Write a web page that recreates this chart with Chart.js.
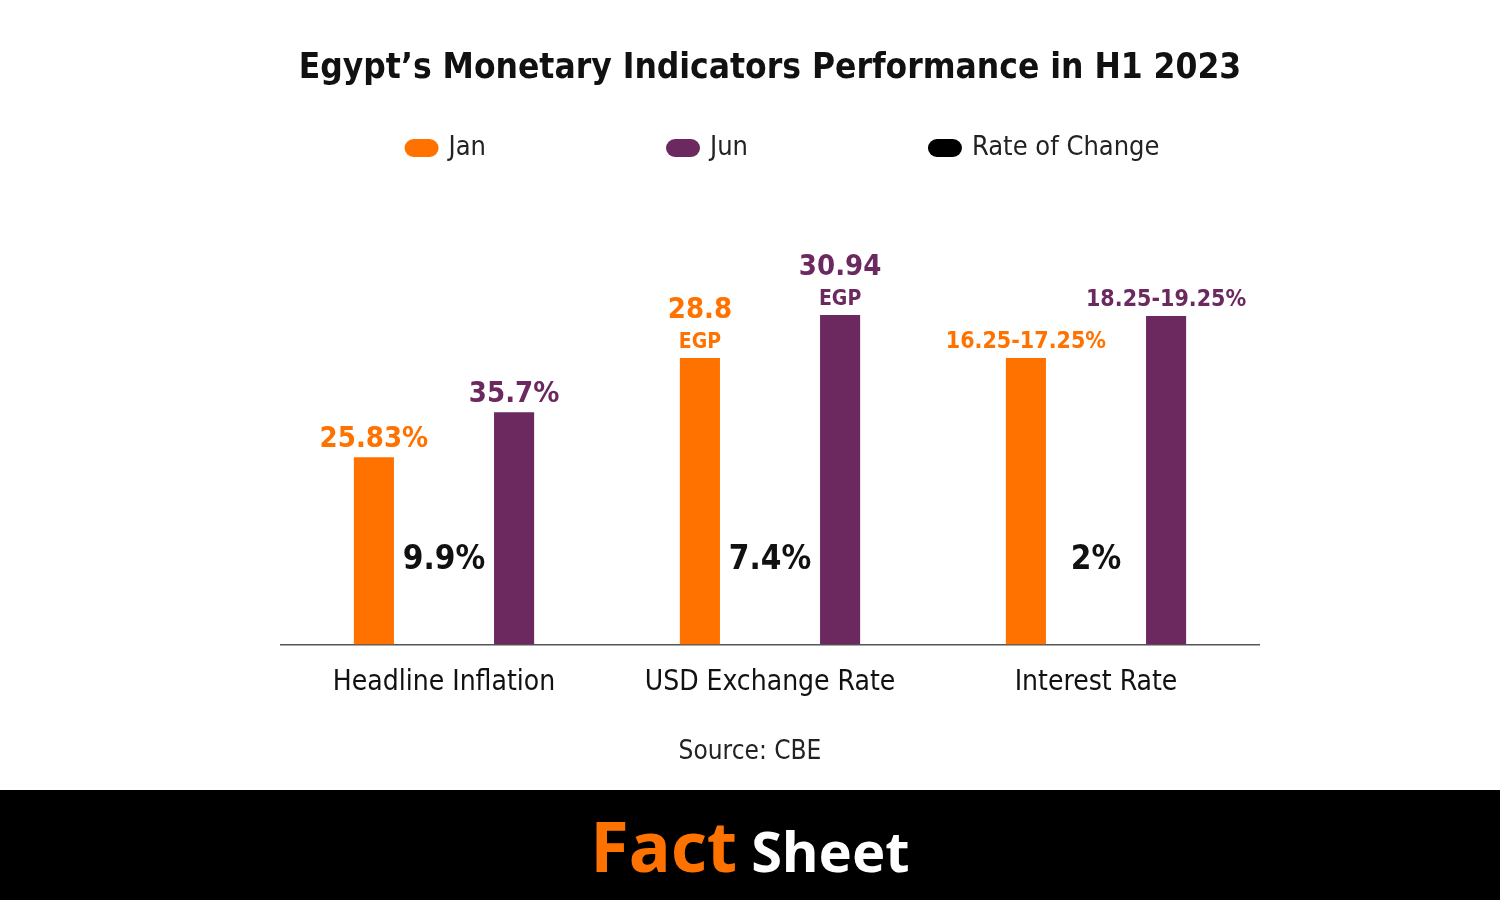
<!DOCTYPE html>
<html>
<head>
<meta charset="utf-8">
<script src="https://cdn.jsdelivr.net/npm/chart.js@4.4.0/dist/chart.umd.min.js"></script>
<style>
  html, body { margin: 0; padding: 0; background: #fff; }
  #wrap { width: 1500px; height: 790px; }
  #footer {
    width: 1500px; height: 110px; background: #000;
    display: flex; align-items: center; justify-content: center;
    font-family: "Noto Sans", sans-serif; font-weight: bold;
  }
  #footer .fact { color: #ff7200; font-size: 70px; margin-right: 14px; }
  #footer .sheet { color: #fff; font-size: 56px; margin-top: 10px; }
</style>
</head>
<body>
<div id="wrap"><canvas id="myChart" width="1500" height="790"></canvas></div>
<div id="footer"><span class="fact">Fact</span><span class="sheet">Sheet</span></div>
<script>
// カテゴリとバーの高さ（画像から読み取り、チャート単位）
const categories = ['Headline Inflation', 'USD Exchange Rate', 'Interest Rate'];
const janHeights = [187, 286, 286];
const junHeights = [232, 329, 328];
// バー上のラベル
const janLabels = ['25.83%', '28.8', '16.25-17.25%'];
const janUnits = ['', 'EGP', ''];
const junLabels = ['35.7%', '30.94', '18.25-19.25%'];
const junUnits = ['', 'EGP', ''];
// 変化率
const rateLabels = ['9.9%', '7.4%', '2%'];
const sourceText = 'Source: CBE';

const ORANGE = '#ff7200';
const PURPLE = '#6b2960';
const FONT = '"DejaVu Sans Condensed", "Noto Sans", sans-serif';

Chart.defaults.font.family = FONT;

// 凡例を手で描く（丸いピル型）
const legendPlugin = {
    id: 'pillLegend',
    afterDraw(chart) {
        const ctx = chart.ctx;
        const items = chart.data.datasets.map(d => ({ text: d.label, color: d.backgroundColor }));
        const gap = 180;
        ctx.save();
        ctx.font = '27px ' + FONT;
        const widths = items.map(it => 34 + 10 + ctx.measureText(it.text).width);
        const total = widths.reduce((a, b) => a + b, 0) + gap * (items.length - 1);
        let x = 782 - total / 2;
        const y = 148;
        items.forEach((it, i) => {
            ctx.fillStyle = it.color;
            ctx.beginPath();
            ctx.roundRect(x, y - 9, 34, 18, 9);
            ctx.fill();
            ctx.fillStyle = '#222';
            ctx.textBaseline = 'middle';
            ctx.textAlign = 'left';
            ctx.fillText(it.text, x + 44, y);
            x += widths[i] + gap;
        });
        // 出典
        ctx.textAlign = 'center';
        ctx.font = '26px ' + FONT;
        ctx.fillText(sourceText, chart.width / 2, 752);
        ctx.restore();
    }
};

// バー上の値ラベルと変化率
const labelPlugin = {
    id: 'barLabels',
    afterDatasetsDraw(chart) {
        const ctx = chart.ctx;
        const sets = [[janLabels, janUnits, ORANGE], [junLabels, junUnits, PURPLE]];
        ctx.save();
        ctx.textAlign = 'center';
        ctx.textBaseline = 'alphabetic';
        sets.forEach((s, di) => {
            const meta = chart.getDatasetMeta(di);
            meta.data.forEach((bar, i) => {
                ctx.fillStyle = s[2];
                let y = bar.y - 10;
                if (s[1][i]) {
                    ctx.font = 'bold 21px ' + FONT;
                    ctx.fillText(s[1][i], bar.x, y);
                    y -= 30;
                }
                const size = s[0][i].length > 8 ? 23 : 29;
                ctx.font = 'bold ' + size + 'px ' + FONT;
                ctx.fillText(s[0][i], bar.x, y);
            });
        });
        const xs = chart.scales.x;
        ctx.fillStyle = '#111';
        ctx.font = 'bold 33px ' + FONT;
        ctx.textBaseline = 'middle';
        rateLabels.forEach((t, i) => {
            ctx.fillText(t, xs.getPixelForValue(i), chart.chartArea.bottom - 84);
        });
        ctx.restore();
    }
};

const ctx = document.getElementById('myChart').getContext('2d');
const myChart = new Chart(ctx, {
    type: 'bar',
    data: {
        labels: categories,
        datasets: [{
            label: 'Jan',
            data: janHeights,
            backgroundColor: ORANGE,
            borderWidth: 0,
            categoryPercentage: 0.86,
            barPercentage: 0.286
        },
        {
            label: 'Jun',
            data: junHeights,
            backgroundColor: PURPLE,
            borderWidth: 0,
            categoryPercentage: 0.86,
            barPercentage: 0.286
        },
        {
            type: 'line',
            label: 'Rate of Change',
            data: [],
            backgroundColor: '#000',
            borderColor: '#000'
        }]
    },
    options: {
        responsive: false,
        animation: false,
        layout: { padding: { left: 281, right: 241, top: 0, bottom: 68 } },
        plugins: {
            legend: { display: false },
            tooltip: { enabled: false },
            title: {
                display: true,
                text: 'Egypt\u2019s Monetary Indicators Performance in H1 2023',
                color: '#111',
                font: { size: 35, weight: 'bold' },
                padding: { top: 48, bottom: 154 }
            }
        },
        scales: {
            x: {
                grid: { display: false, drawTicks: false },
                border: { display: true, color: '#555', width: 1.5 },
                ticks: { color: '#111', font: { size: 28 }, padding: 22 }
            },
            y: {
                display: false,
                min: 0,
                max: 400
            }
        }
    },
    plugins: [legendPlugin, labelPlugin]
});
</script>
</body>
</html>
